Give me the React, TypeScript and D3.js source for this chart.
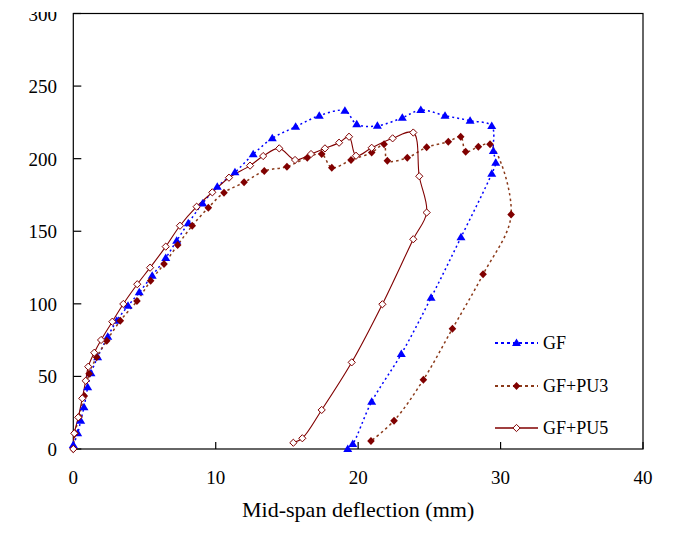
import React from "react";
import * as d3 from "d3";

const gfX = [0, 0.31, 0.52, 0.75, 1.01, 1.24, 1.71, 2.42, 3.05, 3.84, 4.63, 5.54, 6.49, 7.26, 8.07, 9.08, 10.11, 11.35, 12.63, 13.97, 15.61, 17.27, 19.07, 19.9, 21.35, 23.1, 24.4, 26.1, 27.86, 29.38, 29.49, 29.66, 29.38, 27.22, 25.12, 23.03, 20.95, 19.62, 19.27];
const gfY = [2.8, 10.8, 19.5, 28.7, 42.5, 52.1, 63.2, 77.4, 88.4, 98.6, 107.9, 119.4, 131.6, 143.5, 155.5, 169.2, 180.7, 190.6, 203, 214, 222, 229.6, 233, 223.7, 222.6, 228.2, 233.5, 229.6, 226.2, 222.5, 205.3, 197.2, 189.6, 145.8, 104.2, 65.4, 32.6, 3.4, 0];

const pu3X = [0, 0.12, 0.4, 0.77, 1.11, 1.64, 2.35, 3.3, 4.47, 5.43, 6.37, 7.33, 8.35, 9.48, 10.58, 11.99, 13.41, 15.0, 16.43, 17.44, 18.15, 19.5, 20.95, 21.82, 22.05, 23.45, 24.81, 26.33, 27.2, 27.55, 28.44, 29.26, 30.74, 28.77, 26.62, 24.58, 22.52, 20.9];
const pu3Y = [0, 10.8, 22.2, 36.5, 51.9, 63.2, 74.6, 88.4, 101.9, 115.9, 127.4, 140.5, 153.8, 166.2, 176.6, 183.7, 191.5, 194.5, 200.7, 203.2, 193.8, 199.1, 204.2, 209.9, 198.6, 200.7, 207.8, 211.7, 215.1, 204.8, 208.2, 209.9, 161.5, 120.3, 82.9, 47.7, 19.5, 5.5];

const pu5X = [0, 0.07, 0.35, 0.63, 0.87, 1.05, 1.47, 1.95, 2.74, 3.51, 4.49, 5.39, 6.49, 7.49, 8.66, 9.76, 10.93, 12.41, 13.33, 14.46, 15.57, 16.69, 17.67, 18.66, 19.36, 19.85, 20.95, 22.42, 23.87, 24.29, 24.81, 23.87, 21.7, 19.55, 17.44, 16.08, 15.45];
const pu5Y = [0, 10.8, 21.8, 34.9, 47.0, 56.7, 66.3, 75.1, 87.7, 99.9, 113.5, 124.9, 139.4, 153.8, 166.9, 176.8, 186.9, 195.2, 201.8, 207.1, 199.1, 203.2, 207.1, 211, 215.1, 202, 207.5, 214, 218, 187.9, 162.9, 144.5, 99.7, 59.7, 26.9, 7.4, 4.3];

const xTicks = [0, 10, 20, 30, 40];
const yTicks = [0, 50, 100, 150, 200, 250, 300];
const seriesNames = ["GF", "GF+PU3", "GF+PU5"];
const xTitle = "Mid-span deflection (mm)";

const FONT = "Liberation Serif, Tinos, Times New Roman, DejaVu Serif, serif";
const txt = { fontFamily: FONT };

type Pt = [number, number];

function zip(xs: number[], ys: number[]): Pt[] {
  return xs.map((x, i) => [x, ys[i]]);
}

function Marker({ kind, x, y }: { kind: number; x: number; y: number }) {
  if (kind === 0) {
    return <path d={`M${x},${y - 4.5}L${x + 4.5},${y + 3}L${x - 4.5},${y + 3}Z`} fill="#0000FF" />;
  }
  if (kind === 1) {
    return <path d={`M${x},${y - 4}L${x + 3.8},${y}L${x},${y + 4}L${x - 3.8},${y}Z`} fill="#800000" />;
  }
  return (
    <path
      d={`M${x},${y - 3.6}L${x + 3.6},${y}L${x},${y + 3.6}L${x - 3.6},${y}Z`}
      fill="#ffffff"
      stroke="#800000"
      strokeWidth={1}
    />
  );
}

export default function App() {
  const W = 674;
  const H = 537;
  const x = d3.scaleLinear().domain([0, 40]).range([73.3, 643]);
  const y = d3.scaleLinear().domain([0, 300]).range([449, 13.5]);

  const line = d3
    .line<Pt>()
    .x((d) => x(d[0]))
    .y((d) => y(d[1]))
    .curve(d3.curveCatmullRom.alpha(0.5));

  const series = [
    { pts: zip(gfX, gfY), stroke: "#0000FF", dash: "2,3", width: 1.5 },
    { pts: zip(pu3X, pu3Y), stroke: "#8B3A1A", dash: "2.5,3", width: 1.5 },
    { pts: zip(pu5X, pu5Y), stroke: "#800000", dash: undefined as string | undefined, width: 1.1 },
  ];

  const legendY = [343, 386, 428];

  return (
    <svg width={W} height={H} style={{ position: "absolute", left: 0, top: 0, background: "#fff" }}>
      <rect x={0} y={0} width={W} height={H} fill="#fff" />
      <rect x={x(0)} y={y(300)} width={x(40) - x(0)} height={y(0) - y(300)} fill="none" stroke="#000" strokeWidth={1.2} />
      {yTicks.map((t) => (
        <g key={"y" + t}>
          <line x1={x(0)} x2={x(0) + 8} y1={y(t)} y2={y(t)} stroke="#000" strokeWidth={1.2} />
          <text x={57} y={y(t) + 7} textAnchor="end" fontSize={19} fill="#000" style={txt}>
            {t}
          </text>
        </g>
      ))}
      {xTicks.map((t) => (
        <g key={"x" + t}>
          <line x1={x(t)} x2={x(t)} y1={y(0)} y2={y(0) - 7} stroke="#000" strokeWidth={1.2} />
          <text x={x(t)} y={484} textAnchor="middle" fontSize={19} fill="#000" style={txt}>
            {t}
          </text>
        </g>
      ))}
      <rect x={0} y={0} width={70} height={12} fill="#fff" />
      <text x={x(20)} y={517} textAnchor="middle" fontSize={22} fill="#000" style={txt}>
        {xTitle}
      </text>
      {series.map((s, i) => (
        <path
          key={"l" + i}
          d={line(s.pts) || ""}
          fill="none"
          stroke={s.stroke}
          strokeWidth={s.width}
          strokeDasharray={s.dash}
        />
      ))}
      {series.map((s, i) => (
        <g key={"m" + i}>
          {s.pts.map((p, j) => (
            <Marker key={j} kind={i} x={x(p[0])} y={y(p[1])} />
          ))}
        </g>
      ))}
      {seriesNames.map((n, i) => (
        <g key={"lg" + i}>
          <line
            x1={495}
            x2={538}
            y1={legendY[i]}
            y2={legendY[i]}
            stroke={series[i].stroke}
            strokeWidth={i === 2 ? 1.3 : 2}
            strokeDasharray={series[i].dash ? "3,3" : undefined}
          />
          <Marker kind={i} x={516.5} y={legendY[i]} />
          <text x={543} y={legendY[i] + 6} fontSize={18} fill="#000" style={txt}>
            {n}
          </text>
        </g>
      ))}
    </svg>
  );
}
